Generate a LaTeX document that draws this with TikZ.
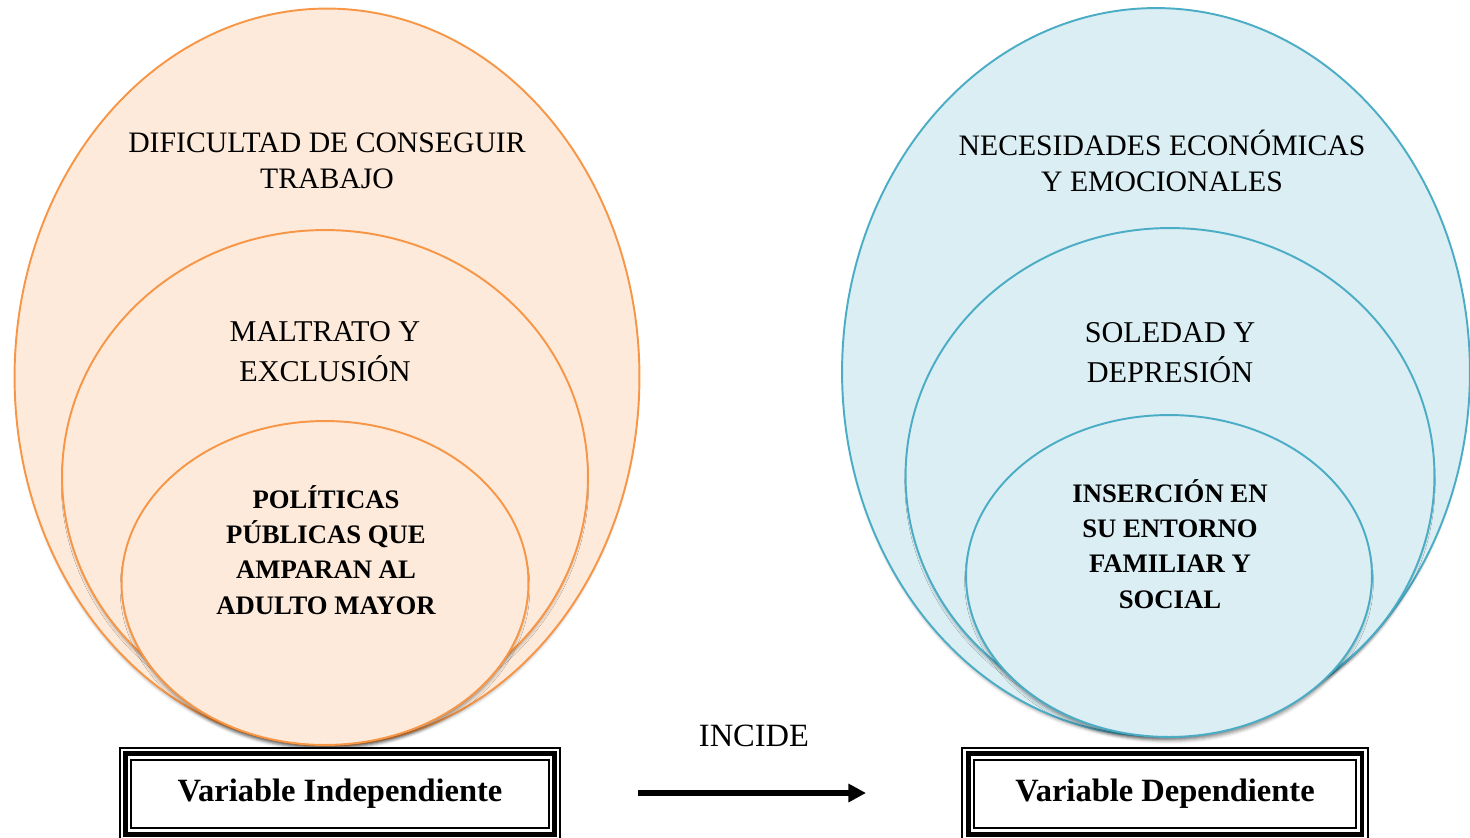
\documentclass[tikz,border=0pt]{standalone}
\usepackage{fontspec}
\setmainfont{Liberation Serif}
\usetikzlibrary{arrows.meta,positioning,shapes.geometric,shadows.blur}
\definecolor{naranja}{HTML}{F79646}
\definecolor{naranjaclaro}{HTML}{FDEADA}
\definecolor{azul}{HTML}{4BACC6}
\definecolor{azulclaro}{HTML}{DAEEF3}
\tikzset{
  vd/elipse/.style={ellipse, draw, line width=1.1pt, inner sep=0pt,
    blur shadow={shadow xshift=0pt, shadow yshift=-3pt, shadow scale=0.99, shadow blur radius=2pt, shadow opacity=45}},
  vd/indep/.style={vd/elipse, draw=naranja, fill=naranjaclaro},
  vd/dep/.style={vd/elipse, draw=azul, fill=azulclaro},
  vd/externo/.style={align=center, font=\fontsize{16.9}{20.4}\selectfont},
  vd/medio/.style={align=center, font=\fontsize{17.2}{22.7}\selectfont},
  vd/interno/.style={align=center, font=\bfseries\fontsize{15.2}{20.1}\selectfont},
  vd/caja/.style={draw, line width=2.8pt, minimum height=1.61cm, inner sep=0pt,
    font=\bfseries\fontsize{18.5}{21}\selectfont,
    preaction={draw, line width=1.1pt, double=white, double distance=5.6pt}},
  vd/flecha/.style={line width=3.3pt, -{Triangle[length=10pt,width=10pt]}},
  vd/rotulo/.style={font=\fontsize{18.5}{21}\selectfont}
}

\begin{document}
\begin{tikzpicture}[x=0.02cm, y=-0.02cm]
  \useasboundingbox (0,0) rectangle (1470,838);

  % variable independiente
  \node[vd/indep, minimum width=12.5cm, minimum height=14.74cm] (indepA) at (327,377) {};
  \node[vd/indep, minimum width=10.52cm, minimum height=9.88cm] (indepB) at (325,477) {};
  \node[vd/indep, minimum width=8.14cm, minimum height=6.48cm] (indepC) at (325,583) {};
  \node[vd/externo] (dificultad) at (327,161) {DIFICULTAD DE CONSEGUIR\\TRABAJO};
  \node[vd/medio] (maltrato) at (325,352) {MALTRATO Y\\EXCLUSIÓN};
  \node[vd/interno] (politicas) at (326,550) {POLÍTICAS\\PÚBLICAS QUE\\AMPARAN AL\\ADULTO MAYOR};

  % variable dependiente
  \node[vd/dep, minimum width=12.56cm, minimum height=14.56cm] (depA) at (1156,372) {};
  \node[vd/dep, minimum width=10.58cm, minimum height=9.92cm] (depB) at (1170,476) {};
  \node[vd/dep, minimum width=8.12cm, minimum height=6.44cm] (depC) at (1169,576) {};
  \node[vd/externo] (necesidades) at (1162,161) {NECESIDADES ECONÓMICAS\\Y EMOCIONALES};
  \node[vd/medio] (soledad) at (1170,353) {SOLEDAD Y\\DEPRESIÓN};
  \node[vd/interno] (insercion) at (1170,544) {INSERCIÓN EN\\SU ENTORNO\\FAMILIAR Y\\SOCIAL};

  % cajas y flecha
  \node[vd/caja, minimum width=8.58cm] (cajaIndep) at (340,794) {Variable Independiente};
  \node[vd/caja, minimum width=7.88cm] (cajaDep) at (1165,794) {Variable Dependiente};
  \node[vd/rotulo] (incide) at (754,736) {INCIDE};
  \coordinate (incA) at (638,793);
  \coordinate (incB) at (866,793);
  \draw[vd/flecha] (incA) -- (incB);
\end{tikzpicture}
\end{document}
